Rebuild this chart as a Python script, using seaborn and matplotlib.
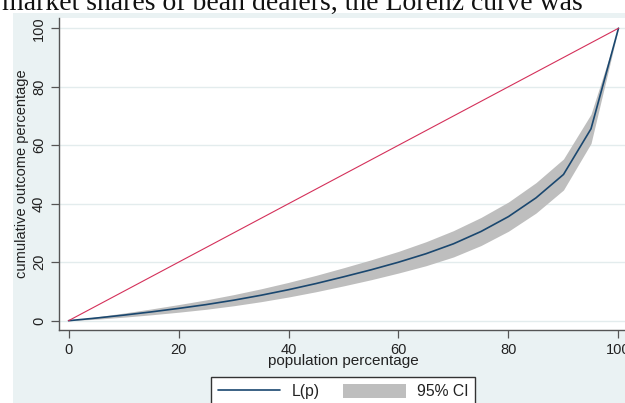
import matplotlib
matplotlib.use("Agg")
import matplotlib.pyplot as plt
import seaborn as sns
import pandas as pd
from matplotlib.lines import Line2D
from matplotlib.patches import Patch, Rectangle

# Lorenz ordinates (population share vs cumulative outcome share) with 95% CI
population_pct = [0, 5, 10, 15, 20, 25, 30, 35, 40, 45, 50,
                  55, 60, 65, 70, 75, 80, 85, 90, 95, 100]
lorenz_pct = [0.0, 0.9, 1.9, 3.0, 4.2, 5.5, 7.0, 8.7, 10.6, 12.7, 15.0,
              17.4, 20.0, 22.9, 26.3, 30.5, 35.6, 42.0, 50.0, 65.6, 100.0]
ci_lower = [0.0, 0.5, 1.2, 2.0, 2.9, 3.9, 5.1, 6.5, 8.1, 9.9, 11.9,
            14.0, 16.3, 18.8, 21.8, 25.7, 30.6, 36.8, 44.7, 60.6, 100.0]
ci_upper = [0.0, 1.3, 2.6, 4.0, 5.5, 7.1, 8.9, 10.9, 13.1, 15.5, 18.1,
            20.8, 23.7, 27.0, 30.8, 35.3, 40.6, 47.2, 55.3, 70.6, 100.0]
equality_pct = [0, 100]

x_ticks = [0, 20, 40, 60, 80, 100]
y_ticks = [0, 20, 40, 60, 80, 100]

curve = pd.DataFrame({"p": population_pct, "L": lorenz_pct,
                      "lo": ci_lower, "hi": ci_upper})
diag = pd.DataFrame({"p": equality_pct, "L": equality_pct})

sns.set_theme(style="white")
plt.rcParams["font.family"] = ["Liberation Sans", "DejaVu Sans"]

W, H = 625, 403
fig = plt.figure(figsize=(W / 100, H / 100), dpi=100)
fig.patch.set_facecolor("white")

# graph region background (light bluish gray)
fig.add_artist(Rectangle((12.7 / W, 0), 1, 1 - 12.7 / H,
                         transform=fig.transFigure, facecolor="#eaf2f3",
                         edgecolor="none", zorder=0))

# running text of the page above the graph
fig.text(2 / W, 1 - 10 / H, "market shares of bean dealers, the Lorenz curve was",
         family=["Liberation Serif", "DejaVu Serif"], fontsize=20,
         color="#111111", ha="left", va="baseline")

ax = fig.add_axes([58.5 / W, 1 - 330 / H, (628.5 - 58.5) / W, (330 - 18) / H])
ax.set_facecolor("white")

ax.fill_between(curve["p"], curve["lo"], curve["hi"], color="#bebebe",
                linewidth=0, zorder=2)
sns.lineplot(data=curve, x="p", y="L", ax=ax, color="#1a476f", linewidth=1.2,
             zorder=3, legend=False)
sns.lineplot(data=diag, x="p", y="L", ax=ax, color="#d4305a", linewidth=0.8,
             zorder=3, legend=False)

ax.set_xlim(-1.82, 101.82)
ax.set_ylim(-3.18, 103.5)
ax.set_xticks(x_ticks)
ax.set_yticks(y_ticks)
ax.set_xticklabels([str(v) for v in x_ticks])
ax.set_yticklabels([str(v) for v in y_ticks], rotation=90, va="center")

ax.grid(axis="y", color="#e3eced", linewidth=1.0, zorder=1)
ax.grid(axis="x", visible=False)
for side in ("top", "right"):
    ax.spines[side].set_visible(False)
for side in ("left", "bottom"):
    ax.spines[side].set_color("#555555")
    ax.spines[side].set_linewidth(1.0)

ax.tick_params(axis="both", which="major", direction="out", length=6,
               width=0.9, color="#555555", labelcolor="#222222",
               labelsize=10.5, pad=3, left=True, bottom=True)

ax.set_xlabel("population percentage", fontsize=11, color="#222222", labelpad=-1.5)
ax.set_ylabel("cumulative outcome percentage", fontsize=10.5, color="#222222",
              labelpad=2)

handles = [Line2D([0], [0], color="#1a476f", linewidth=1.2),
           Patch(facecolor="#bebebe", edgecolor="none")]
fig.legend(handles, ["L(p)", "95% CI"], ncol=2, loc="upper center",
           bbox_to_anchor=(343 / W, 1 - 376.7 / H), borderaxespad=0,
           frameon=True, fancybox=False, edgecolor="#333333",
           facecolor="white", framealpha=1, fontsize=11.3, handlelength=4.0,
           handleheight=1.0, handletextpad=0.7, columnspacing=1.5,
           borderpad=0.45, labelcolor="#222222")

fig.savefig("out.png", dpi=100)
